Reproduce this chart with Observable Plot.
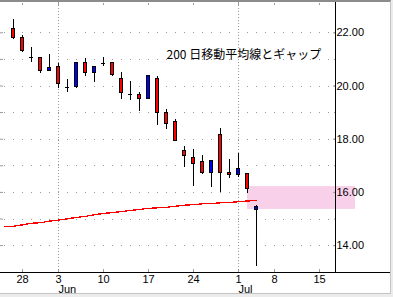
<!DOCTYPE html>
<html><head><meta charset="utf-8">
<script src="https://cdn.jsdelivr.net/npm/d3@7"></script>
<script src="https://cdn.jsdelivr.net/npm/@observablehq/plot@0.6"></script>
<style>
body{margin:0;background:#ececec;}
#wrap{width:390px;height:291px;border-top:2px solid #8c8c8c;border-right:1px solid #c4c4c4;border-bottom:1px solid #c4c4c4;background:#fff;}
#wrap svg{overflow:visible;display:block;}
</style></head><body><div id="wrap"></div>
<script>
// trading calendar (x axis positions are trading-day slots)
const days = ["2002-05-23","2002-05-24","2002-05-28","2002-05-29","2002-05-30","2002-05-31",
  "2002-06-03","2002-06-04","2002-06-05","2002-06-06","2002-06-07",
  "2002-06-10","2002-06-11","2002-06-12","2002-06-13","2002-06-14",
  "2002-06-17","2002-06-18","2002-06-19","2002-06-20","2002-06-21",
  "2002-06-24","2002-06-25","2002-06-26","2002-06-27","2002-06-28",
  "2002-07-01","2002-07-02","2002-07-03","2002-07-05",
  "2002-07-08","2002-07-09","2002-07-10","2002-07-11","2002-07-12",
  "2002-07-15","2002-07-16","2002-07-17","2002-07-18","2002-07-19"];

const candleDates = ["2002-05-24","2002-05-28","2002-05-29","2002-05-30","2002-05-31",
  "2002-06-03","2002-06-04","2002-06-05","2002-06-06","2002-06-07",
  "2002-06-10","2002-06-11","2002-06-12","2002-06-13","2002-06-14",
  "2002-06-17","2002-06-18","2002-06-19","2002-06-20","2002-06-21",
  "2002-06-24","2002-06-25","2002-06-26","2002-06-27","2002-06-28",
  "2002-07-01","2002-07-02","2002-07-03"];
const open  = [22.16,21.82,21.07,21.07,20.58,20.70,19.94,19.98,20.85,20.47,20.85,20.85,20.28,19.68,19.68,19.53,20.28,19.00,18.63,17.54,17.30,17.15,16.74,18.14,16.74,16.66,16.70,15.32];
const high  = [22.50,21.90,21.45,21.07,21.18,20.85,20.24,20.88,21.03,20.73,21.07,20.88,20.51,20.17,19.76,20.36,20.36,19.12,18.74,17.73,17.61,17.40,17.19,18.40,17.24,17.47,16.70,15.52];
const low   = [21.75,21.26,20.88,20.47,20.58,19.91,19.76,19.91,20.36,20.13,20.73,20.36,19.49,19.45,19.04,19.53,18.52,18.37,17.91,16.95,16.23,16.67,16.20,16.01,16.53,16.55,15.97,13.23];
const close = [21.79,21.33,21.07,20.58,20.66,20.06,19.94,20.85,20.47,20.70,20.85,20.43,19.72,19.68,19.53,20.36,18.97,18.59,17.95,17.38,17.08,16.74,17.19,16.74,16.66,16.89,16.14,15.47];

const maDates = ["2002-05-23"].concat(candleDates);
const maValues = [14.72,14.73,14.78,14.84,14.86,14.92,14.96,15.01,15.06,15.10,15.16,15.21,15.24,15.28,15.32,15.36,15.40,15.42,15.44,15.48,15.52,15.54,15.57,15.58,15.61,15.62,15.65,15.68,15.69];

const gapStart = "2002-07-02", gapEnd = "2002-07-19";
const gapLow = 15.36, gapHigh = 16.22;

const tickDates  = ["2002-05-28","2002-06-03","2002-06-10","2002-06-17","2002-06-24","2002-07-01","2002-07-08","2002-07-15"];
const tickLabels = ["28","3","10","17","24","1","8","15"];
const monthDates  = ["2002-06-03","2002-07-01"];
const monthLabels = ["Jun","Jul"];
const yGridValues  = [14,15,16,17,18,19,20,21,22];
const yLabelValues = [14,16,18,20,22];
const note = {text: "200 日移動平均線とギャップ", date: "2002-06-19", value: 21.15};

const idx = new Map(days.map((d, i) => [d, i]));
const candles = candleDates.map((d, k) => ({i: idx.get(d), o: open[k], h: high[k], l: low[k], c: close[k]}));
const ups = candles.filter(d => d.c > d.o);
const downs = candles.filter(d => d.c < d.o);
const dojis = candles.filter(d => d.c === d.o);
const ma = maDates.map((d, k) => ({i: idx.get(d), v: maValues[k]}));
const tickIdx = tickDates.map(d => idx.get(d));
const tickMap = new Map(tickIdx.map((t, k) => [t, tickLabels[k]]));
const months = monthDates.map((d, k) => ({i: idx.get(d), label: monthLabels[k]}));
const gap = [{x1: idx.get(gapStart), x2: idx.get(gapEnd), y1: gapLow, y2: gapHigh}];

const xDomain = [-4/9, 331/9];
const yDomain = [12.989, 23.139];
const gray = "#9a9a9a";

const chart = Plot.plot({
  width: 390, height: 291,
  marginLeft: 0, marginRight: 55, marginTop: 0, marginBottom: 21,
  x: {domain: xDomain, label: null},
  y: {domain: yDomain, label: null},
  style: {fontFamily: "'Liberation Sans', Arial, sans-serif", fontSize: "11px", background: "white", color: "black"},
  marks: [
    Plot.ruleY(yGridValues, {stroke: gray, strokeDasharray: "1 8", strokeDashoffset: 5.5, shapeRendering: "crispEdges"}),
    Plot.ruleX(months, {x: "i", stroke: gray, strokeDasharray: "1 2", shapeRendering: "crispEdges"}),
    Plot.rect(gap, {x1: "x1", x2: "x2", y1: "y1", y2: "y2", fill: "#f9d0e9"}),
    Plot.line(ma, {x: "i", y: "v", stroke: "#ff0000", strokeWidth: 1.3, shapeRendering: "crispEdges"}),
    Plot.ruleX(candles, {x: "i", y1: "l", y2: "h", stroke: "black", shapeRendering: "crispEdges"}),
    Plot.rect(downs, {x1: d => d.i - 0.2, x2: d => d.i + 0.2, y1: "o", y2: "c", fill: "#ff0000", stroke: "black", shapeRendering: "crispEdges"}),
    Plot.rect(ups, {x1: d => d.i - 0.2, x2: d => d.i + 0.2, y1: "o", y2: "c", fill: "#0000ff", stroke: "black", shapeRendering: "crispEdges"}),
    Plot.ruleY(dojis, {y: "o", x1: d => d.i - 0.26, x2: d => d.i + 0.26, stroke: "black", strokeWidth: 1.6, shapeRendering: "crispEdges"}),
    Plot.axisY(yGridValues, {anchor: "left", tickSize: -3, tickFormat: () => "", stroke: gray}),
    Plot.axisY(yGridValues, {anchor: "right", tickSize: -2, tickFormat: () => "", stroke: gray}),
    Plot.axisY(yLabelValues, {anchor: "right", tickSize: -3, tickPadding: 4, tickFormat: d3.format(".2f"), stroke: gray, fill: "black"}),
    Plot.axisX(tickIdx, {anchor: "top", tickSize: -2, tickFormat: () => "", stroke: gray}),
    Plot.axisX(tickIdx, {anchor: "bottom", tickSize: -3, tickPadding: 6, tickFormat: d => tickMap.get(d), stroke: gray, fill: "black"}),
    Plot.text(months, {x: "i", text: "label", frameAnchor: "bottom", dy: 17, textAnchor: "start", lineAnchor: "middle", fill: "black"}),
    Plot.ruleX([xDomain[1]], {stroke: "black"}),
    Plot.ruleY([yDomain[0]], {stroke: "black", insetRight: -55}),
    Plot.text([note], {x: d => idx.get(d.date), y: "value", text: "text", textAnchor: "start", fontFamily: "'Noto Sans CJK JP', sans-serif", fontSize: 12, fill: "black"})
  ]
});
document.getElementById("wrap").appendChild(chart);
</script></body></html>
